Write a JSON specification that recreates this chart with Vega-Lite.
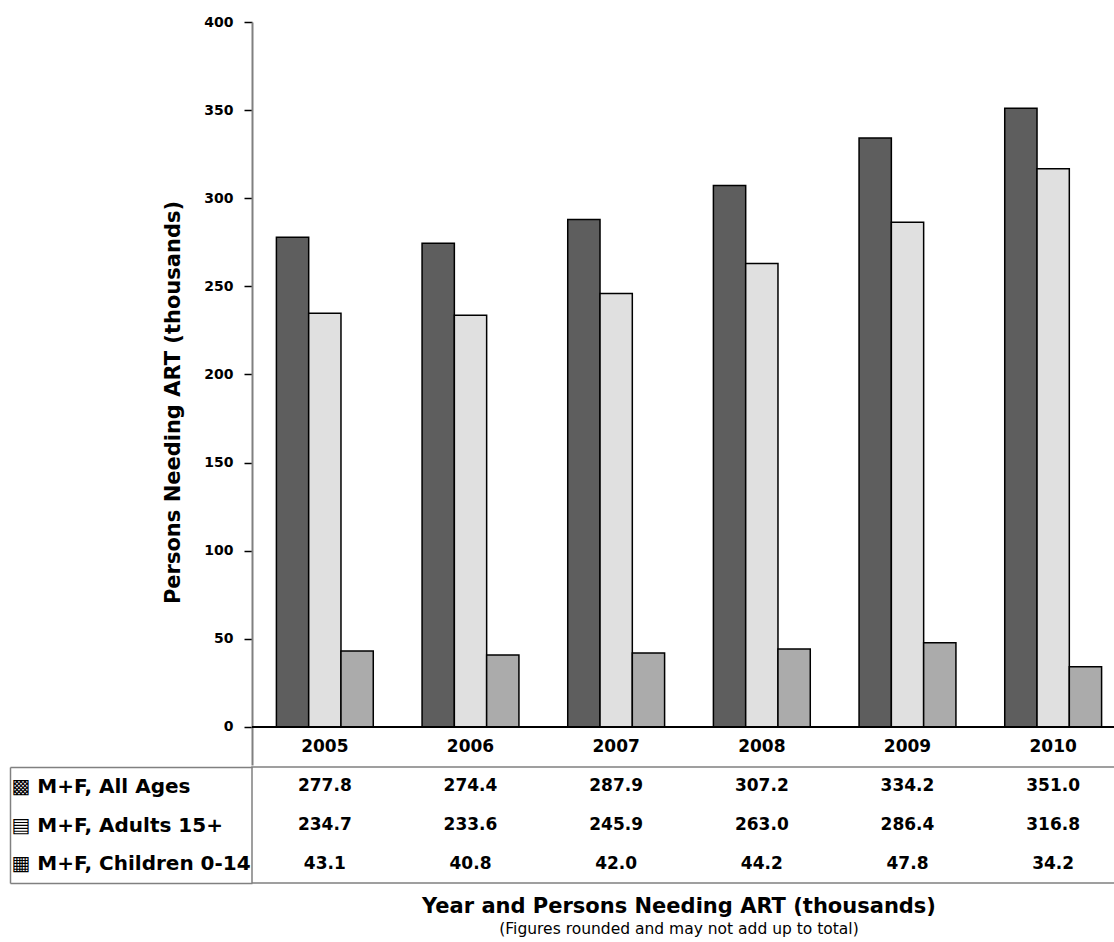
{
  "$schema": "https://vega.github.io/schema/vega-lite/v6.json",
  "background": "white",
  "padding": {"left": 8, "top": 15, "right": -10, "bottom": 0},
  "spacing": 0,
  "config": {"font": "DejaVu Sans", "view": {"stroke": null}},
  "resolve": {"scale": {"x": "independent", "y": "independent"}},
  "datasets": {
    "art": [
      {"year": "2005", "series": "M+F, All Ages", "value": 277.8},
      {"year": "2005", "series": "M+F, Adults 15+", "value": 234.7},
      {"year": "2005", "series": "M+F, Children 0-14", "value": 43.1},
      {"year": "2006", "series": "M+F, All Ages", "value": 274.4},
      {"year": "2006", "series": "M+F, Adults 15+", "value": 233.6},
      {"year": "2006", "series": "M+F, Children 0-14", "value": 40.8},
      {"year": "2007", "series": "M+F, All Ages", "value": 287.9},
      {"year": "2007", "series": "M+F, Adults 15+", "value": 245.9},
      {"year": "2007", "series": "M+F, Children 0-14", "value": 42.0},
      {"year": "2008", "series": "M+F, All Ages", "value": 307.2},
      {"year": "2008", "series": "M+F, Adults 15+", "value": 263.0},
      {"year": "2008", "series": "M+F, Children 0-14", "value": 44.2},
      {"year": "2009", "series": "M+F, All Ages", "value": 334.2},
      {"year": "2009", "series": "M+F, Adults 15+", "value": 286.4},
      {"year": "2009", "series": "M+F, Children 0-14", "value": 47.8},
      {"year": "2010", "series": "M+F, All Ages", "value": 351.0},
      {"year": "2010", "series": "M+F, Adults 15+", "value": 316.8},
      {"year": "2010", "series": "M+F, Children 0-14", "value": 34.2}
    ]
  },
  "vconcat": [
    {
      "width": 874,
      "height": 743,
      "data": {"name": "art"},
      "layer": [
        {
          "mark": {"type": "bar", "stroke": "black", "strokeWidth": 1.5},
          "encoding": {
            "x": {
              "field": "year", "type": "nominal",
              "scale": {"paddingInner": 0.335, "paddingOuter": 0.1675},
              "axis": {
                "title": null, "labelAngle": 0, "labelFontSize": 17, "labelFontWeight": "bold", "labelColor": "black",
                "domain": false,
                "ticks": false, "labelPadding": -27, "minExtent": 0
              }
            },
            "xOffset": {
              "field": "series", "type": "nominal",
              "sort": ["M+F, All Ages", "M+F, Adults 15+", "M+F, Children 0-14"],
              "scale": {"paddingInner": 0, "paddingOuter": 0}
            },
            "y": {
              "field": "value", "type": "quantitative",
              "scale": {"domain": [-21.6, 400], "nice": false, "zero": false},
              "axis": {
                "title": "Persons Needing ART (thousands)", "titleFontSize": 21, "titleFontWeight": "bold", "titleColor": "black",
                "titleX": -69, "titleY": 380,
                "values": [0, 50, 100, 150, 200, 250, 300, 350, 400],
                "labelFontSize": 14, "labelFontWeight": "bold", "labelColor": "black", "labelPadding": 11,
                "tickSize": 8, "tickColor": "black", "tickWidth": 1.5,
                "domainColor": "#808080", "domainWidth": 2, "grid": false,
                "minExtent": 242, "maxExtent": 242
              }
            },
            "fill": {
              "field": "series", "type": "nominal",
              "scale": {"domain": ["M+F, All Ages", "M+F, Adults 15+", "M+F, Children 0-14"], "range": ["#5e5e5e", "#e0e0e0", "#ababab"]},
              "legend": null
            }
          }
        },
        {
          "mark": {"type": "rule", "color": "black", "strokeWidth": 1.5},
          "encoding": {"y": {"datum": 0, "type": "quantitative"}}
        }
      ]
    },
    {
      "width": 874,
      "height": 116,
      "data": {"name": "art"},
      "view": {"stroke": "#808080", "strokeWidth": 1.5},
      "title": {
        "text": "Year and Persons Needing ART (thousands)",
        "subtitle": "(Figures rounded and may not add up to total)",
        "orient": "bottom", "anchor": "middle", "frame": "group", "dx": -10,
        "fontSize": 21, "fontWeight": "bold", "color": "black",
        "subtitleFontSize": 15.5, "subtitleFontWeight": "normal", "subtitleColor": "black",
        "offset": 12, "subtitlePadding": 5
      },
      "mark": {"type": "text", "fontSize": 17, "fontWeight": "bold", "color": "black"},
      "encoding": {
        "x": {
          "field": "year", "type": "nominal",
          "scale": {"paddingInner": 0.335, "paddingOuter": 0.1675},
          "axis": null
        },
        "y": {
          "field": "series", "type": "nominal",
          "sort": ["M+F, All Ages", "M+F, Adults 15+", "M+F, Children 0-14"],
          "scale": {"paddingInner": 0, "paddingOuter": 0},
          "axis": {
            "title": null, "orient": "left", "offset": 242,
            "domain": true, "domainColor": "#808080", "domainWidth": 1.5,
            "ticks": true, "tickBand": "extent", "tickSize": -242, "tickColor": "#808080", "tickWidth": 1.5,
            "tickOpacity": {"condition": {"test": "datum.index == 1 || datum.extra", "value": 1}, "value": 0},
            "labelAlign": "left", "labelPadding": 241, "labelLimit": 300,
            "labelFontSize": {"condition": {"test": "datum.value", "value": 20}, "value": 0},
            "labelFontWeight": "bold", "labelColor": "black",
            "labelExpr": "datum.value ? (datum.value == 'M+F, All Ages' ? '▩ ' : datum.value == 'M+F, Adults 15+' ? '▤ ' : '▦ ') + datum.value : ''"
          }
        },
        "text": {"field": "value", "type": "quantitative", "format": ".1f"}
      }
    }
  ]
}
